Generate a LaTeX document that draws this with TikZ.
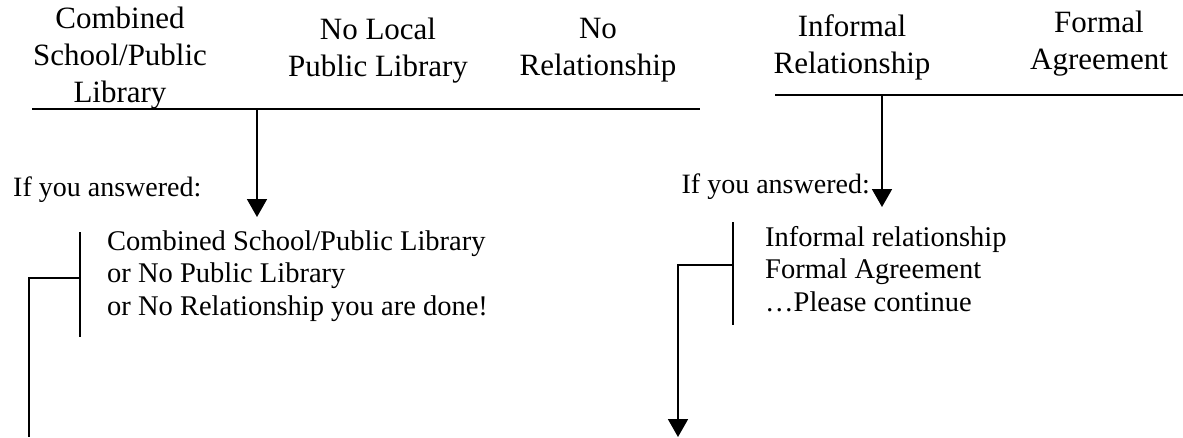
\documentclass[tikz,border=0pt]{standalone}
\usepackage{fontspec}
\setmainfont{Liberation Serif}
\usetikzlibrary{arrows.meta}
\begin{document}
\begin{tikzpicture}[x=1pt,y=-1pt,
  hdr/.style={align=center, inner sep=0pt, anchor=north, font=\fontsize{31}{37}\selectfont},
  body/.style={align=left, inner sep=0pt, anchor=north west, font=\fontsize{28.5}{32.5}\selectfont},
  ask/.style={inner sep=0pt, anchor=base west, font=\fontsize{28}{32}\selectfont},
  rule/.style={line width=2.4pt},
  conn/.style={line width=1.8pt},
  arr/.style={conn, -{Triangle[width=20pt,length=18pt]}}]
\useasboundingbox (0,0) rectangle (1183,437);

% headers
\node[hdr] (h1) at (120,7) {Combined\\School/Public\\Library};
\node[hdr] (h2) at (378,18) {No Local\\Public Library};
\node[hdr] (h3) at (598,18) {No\\Relationship};
\node[hdr] (h4) at (852,14) {Informal\\Relationship};
\node[hdr] (h5) at (1099,11) {Formal\\Agreement};

% header rules
\coordinate (l1a) at (32,109);
\coordinate (l1b) at (700,109);
\coordinate (l2a) at (775,95);
\coordinate (l2b) at (1183,95);
\draw[rule] (l1a) -- (l1b);
\draw[rule] (l2a) -- (l2b);

% left branch
\coordinate (a1s) at (257,109);
\coordinate (a1e) at (257,217);
\draw[arr] (a1s) -- (a1e);
\node[ask] (q1) at (13,196) {If you answered:};
\coordinate (b1t) at (80,232);
\coordinate (b1b) at (80,337);
\coordinate (b1m) at (80,278);
\coordinate (b1l) at (29,278);
\coordinate (b1e) at (29,437);
\draw[conn] (b1t) -- (b1b);
\draw[conn] (b1m) -- (b1l) -- (b1e);
\node[body] (t1) at (107,230.5) {Combined School/Public Library\\or No Public Library\\or No Relationship you are done!};

% right branch
\coordinate (a2s) at (882,95);
\coordinate (a2e) at (882,207);
\draw[arr] (a2s) -- (a2e);
\node[ask, anchor=base east] (q2) at (870,193) {If you answered:};
\coordinate (b2t) at (733,222);
\coordinate (b2b) at (733,325);
\coordinate (b2m) at (733,265);
\coordinate (b2l) at (678,265);
\coordinate (b2e) at (678,437);
\draw[conn] (b2t) -- (b2b);
\draw[arr] (b2m) -- (b2l) -- (b2e);
\node[body] (t2) at (765,226) {Informal relationship\\Formal Agreement\\…Please continue};
\end{tikzpicture}
\end{document}
